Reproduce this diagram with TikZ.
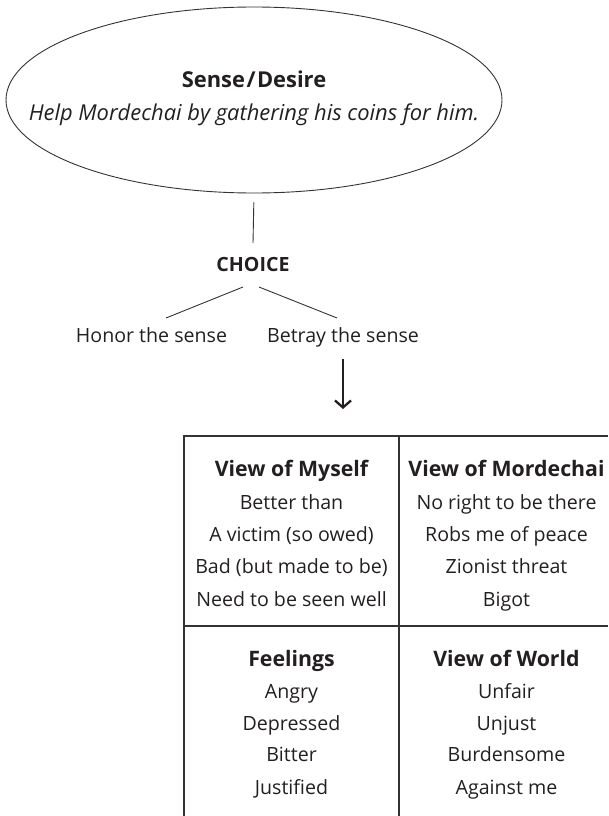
\documentclass[tikz,border=0pt]{standalone}
\usepackage{fontspec}
\setmainfont{Open Sans}
\usetikzlibrary{arrows.meta,shapes.geometric}
\definecolor{ink}{HTML}{231F20}
\definecolor{rule}{HTML}{333333}
\begin{document}
\begin{tikzpicture}[x=1pt,y=-1pt,
  body/.style={inner sep=0pt, anchor=base, text=ink, font=\fontsize{19.6}{23}\selectfont},
  head/.style={inner sep=0pt, anchor=base, text=ink, font=\fontsize{19.6}{23}\selectfont\bfseries},
  cellhead/.style={inner sep=0pt, anchor=base, text=ink, font=\fontsize{21.3}{25}\selectfont\bfseries},
  big/.style={inner sep=0pt, anchor=base, text=ink},
  conn/.style={draw=rule, line width=0.9pt},
  grid/.style={draw=rule, line width=1.3pt}]
\useasboundingbox (0,0) rectangle (608,816);
% ellipse
\node[ellipse, draw=rule, line width=0.9pt, inner sep=0pt, minimum width=496pt, minimum height=186pt] (sense) at (254,100) {};
\node[big, font=\fontsize{21.9}{26}\selectfont\bfseries] (title) at (254,87.5) {Sense\kern1.5pt/\kern1.5pt Desire};
\node[big, font=\fontsize{21.9}{26}\selectfont\itshape] (desire) at (254,120.5) {Help Mordechai by gathering his coins for him.};
% choice
\node[head] (choice) at (253,271) {CHOICE};
\draw[conn, shorten <=9pt] (sense.south) -- (253,243) coordinate (cTop);
\node[body] (honor) at (151.5,342.5) {Honor the sense};
\node[body] (betray) at (343,342.5) {Betray the sense};
\coordinate (l1) at (243,287);
\coordinate (l2) at (166,318);
\coordinate (r1) at (259,287);
\coordinate (r2) at (337,318);
\draw[conn] (l1) -- (l2);
\draw[conn] (r1) -- (r2);
\coordinate (a1) at (343,359);
\coordinate (a2) at (343,409);
\draw[draw=ink, line width=1.9pt, -{Straight Barb[length=7pt,width=16pt,line width=2.3pt]}] (a1) -- (a2);
% table
\draw[grid] (184,816) -- (184,436) -- (608,436);
\draw[grid] (399,436) -- (399,816);
\draw[grid] (184,626) -- (608,626);
% cell 1
\node[cellhead] (h1) at (291.5,476.7) {View of Myself};
\node[body] at (291.5,509.3) {Better than};
\node[body] at (291.5,541.7) {A victim (so owed)};
\node[body] at (291.5,573.3) {Bad (but made to be)};
\node[body] at (291.5,606) {Need to be seen well};
% cell 2
\node[cellhead] (h2) at (506.5,476.7) {View of Mordechai};
\node[body] at (506.5,509.3) {No right to be there};
\node[body] at (506.5,541.7) {Robs me of peace};
\node[body] at (506.5,573.3) {Zionist threat};
\node[body] at (506.5,606) {Bigot};
% cell 3
\node[cellhead] (h3) at (291.5,666) {Feelings};
\node[body] at (291.5,698.3) {Angry};
\node[body] at (291.5,730) {Depressed};
\node[body] at (291.5,761.7) {Bitter};
\node[body] at (291.5,794) {Justified};
% cell 4
\node[cellhead] (h4) at (506.5,666) {View of World};
\node[body] at (506.5,698.3) {Unfair};
\node[body] at (506.5,730) {Unjust};
\node[body] at (506.5,761.7) {Burdensome};
\node[body] at (506.5,794) {Against me};
\end{tikzpicture}
\end{document}
